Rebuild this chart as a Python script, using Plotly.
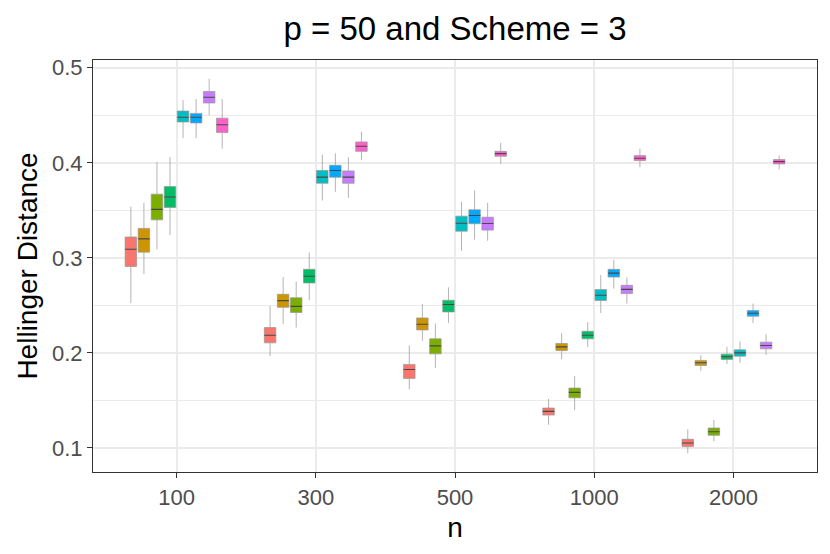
import plotly.graph_objects as go

# ---- data ----
n_labels = ["100", "300", "500", "1000", "2000"]
groups = ["G1", "G2", "G3", "G4", "G5", "G6", "G7", "G8"]
colors = ["#F8766D", "#CD9600", "#7CAE00", "#00BE67",
          "#00BFC4", "#00A9FF", "#C77CFF", "#FF61CC"]

q1 = [
    [0.291, 0.2106, 0.1732, 0.1346, 0.1014],
    [0.306, 0.248, 0.2242, 0.2026, 0.1868],
    [0.340, 0.2425, 0.199, 0.1528, 0.1133],
    [0.353, 0.2736, 0.2431, 0.2148, 0.1931],
    [0.443, 0.3785, 0.3281, 0.2551, 0.1966],
    [0.442, 0.3848, 0.3359, 0.2798, 0.2386],
    [0.463, 0.3785, 0.3292, 0.2624, 0.2043],
    [0.432, 0.4121, 0.4069, 0.4024, 0.3989],
]
median = [
    [0.309, 0.2186, 0.1826, 0.1385, 0.1052],
    [0.320, 0.255, 0.2302, 0.2064, 0.1896],
    [0.351, 0.249, 0.2074, 0.1585, 0.1171],
    [0.364, 0.2806, 0.2509, 0.2186, 0.1959],
    [0.448, 0.385, 0.3365, 0.2606, 0.200],
    [0.448, 0.392, 0.3446, 0.284, 0.2417],
    [0.469, 0.385, 0.3362, 0.2669, 0.2078],
    [0.440, 0.4174, 0.4097, 0.4048, 0.4013],
]
q3 = [
    [0.322, 0.2267, 0.1879, 0.142, 0.1091],
    [0.331, 0.2617, 0.2368, 0.2099, 0.1921],
    [0.367, 0.258, 0.2148, 0.163, 0.121],
    [0.375, 0.288, 0.2554, 0.2228, 0.1987],
    [0.4545, 0.392, 0.3439, 0.2666, 0.2032],
    [0.452, 0.3974, 0.3506, 0.2879, 0.2446],
    [0.475, 0.3915, 0.3428, 0.2711, 0.2113],
    [0.447, 0.422, 0.4121, 0.4076, 0.4034],
]
lower = [
    [0.2525, 0.1966, 0.1616, 0.1244, 0.0944],
    [0.283, 0.2305, 0.2127, 0.1934, 0.1812],
    [0.309, 0.2267, 0.1843, 0.1396, 0.107],
    [0.324, 0.2554, 0.2316, 0.2063, 0.1882],
    [0.426, 0.3604, 0.3075, 0.242, 0.1896],
    [0.426, 0.3695, 0.3191, 0.2677, 0.2315],
    [0.450, 0.3632, 0.318, 0.2519, 0.198],
    [0.415, 0.4027, 0.3989, 0.3953, 0.3932],
]
upper = [
    [0.354, 0.2494, 0.2078, 0.1515, 0.1196],
    [0.358, 0.2799, 0.2515, 0.2207, 0.1976],
    [0.401, 0.275, 0.2309, 0.1756, 0.1294],
    [0.406, 0.3058, 0.269, 0.2323, 0.2064],
    [0.466, 0.4087, 0.359, 0.2819, 0.212],
    [0.467, 0.41, 0.3709, 0.2981, 0.2519],
    [0.4885, 0.4058, 0.358, 0.2795, 0.2197],
    [0.467, 0.4328, 0.421, 0.415, 0.4076],
]

FONT = "Liberation Sans"

fig = go.Figure()
for i, g in enumerate(groups):
    fig.add_trace(go.Box(
        name=g, x=n_labels,
        q1=q1[i], median=median[i], q3=q3[i],
        lowerfence=lower[i], upperfence=upper[i],
        fillcolor=colors[i],
        line=dict(color="rgba(150,150,150,0.9)", width=0.8),
        whiskerwidth=0,
        offsetgroup=g, alignmentgroup="all",
        showlegend=False, hoverinfo="skip",
    ))
for i, g in enumerate(groups):
    # overlay: darker median segment
    fig.add_trace(go.Box(
        name=g + "_med", x=n_labels,
        q1=median[i], median=median[i], q3=median[i],
        lowerfence=median[i], upperfence=median[i],
        fillcolor="rgba(0,0,0,0)",
        line=dict(color="rgba(40,40,40,0.7)", width=1.1),
        whiskerwidth=0,
        offsetgroup=g, alignmentgroup="all",
        showlegend=False, hoverinfo="skip",
    ))

fig.update_layout(
    width=830, height=554,
    margin=dict(l=93, r=13, t=60, b=82, autoexpand=False),
    paper_bgcolor="white", plot_bgcolor="white",
    boxmode="group", boxgap=0.25, boxgroupgap=0.12,
    font=dict(family=FONT, color="black"),
    title=dict(text="p = 50 and Scheme = 3", x=0.5, xref="paper",
               xanchor="center", y=1 - 28 / 554, yref="container",
               yanchor="middle", font=dict(size=33, color="black")),
)
fig.update_xaxes(
    type="category", categoryorder="array", categoryarray=n_labels,
    range=[-0.6, 4.6], automargin=False,
    showgrid=True, gridcolor="#EBEBEB", gridwidth=1.5,
    showline=True, mirror=True, linecolor="#333333", linewidth=1.2,
    ticks="outside", ticklen=5, tickcolor="#333333", tickwidth=1.2,
    tickfont=dict(size=22, color="#4D4D4D"),
    title=dict(text="n", font=dict(size=28, color="black"), standoff=8),
    zeroline=False,
)
fig.update_yaxes(
    range=[0.0747, 0.5082], automargin=False,
    tick0=0.1, dtick=0.1, tickformat=".1f",
    showgrid=True, gridcolor="#EBEBEB", gridwidth=1.5,
    minor=dict(dtick=0.05, tick0=0.05, showgrid=True,
               gridcolor="#EBEBEB", gridwidth=0.8),
    showline=True, mirror=True, linecolor="#333333", linewidth=1.2,
    ticks="outside", ticklen=5, tickcolor="#333333", tickwidth=1.2,
    tickfont=dict(size=22, color="#4D4D4D"),
    title=dict(text="Hellinger Distance", font=dict(size=28, color="black"),
               standoff=6),
    zeroline=False,
)

fig.write_html("out.html", config={"displayModeBar": False},
               post_script="document.body.style.margin='0px';")
